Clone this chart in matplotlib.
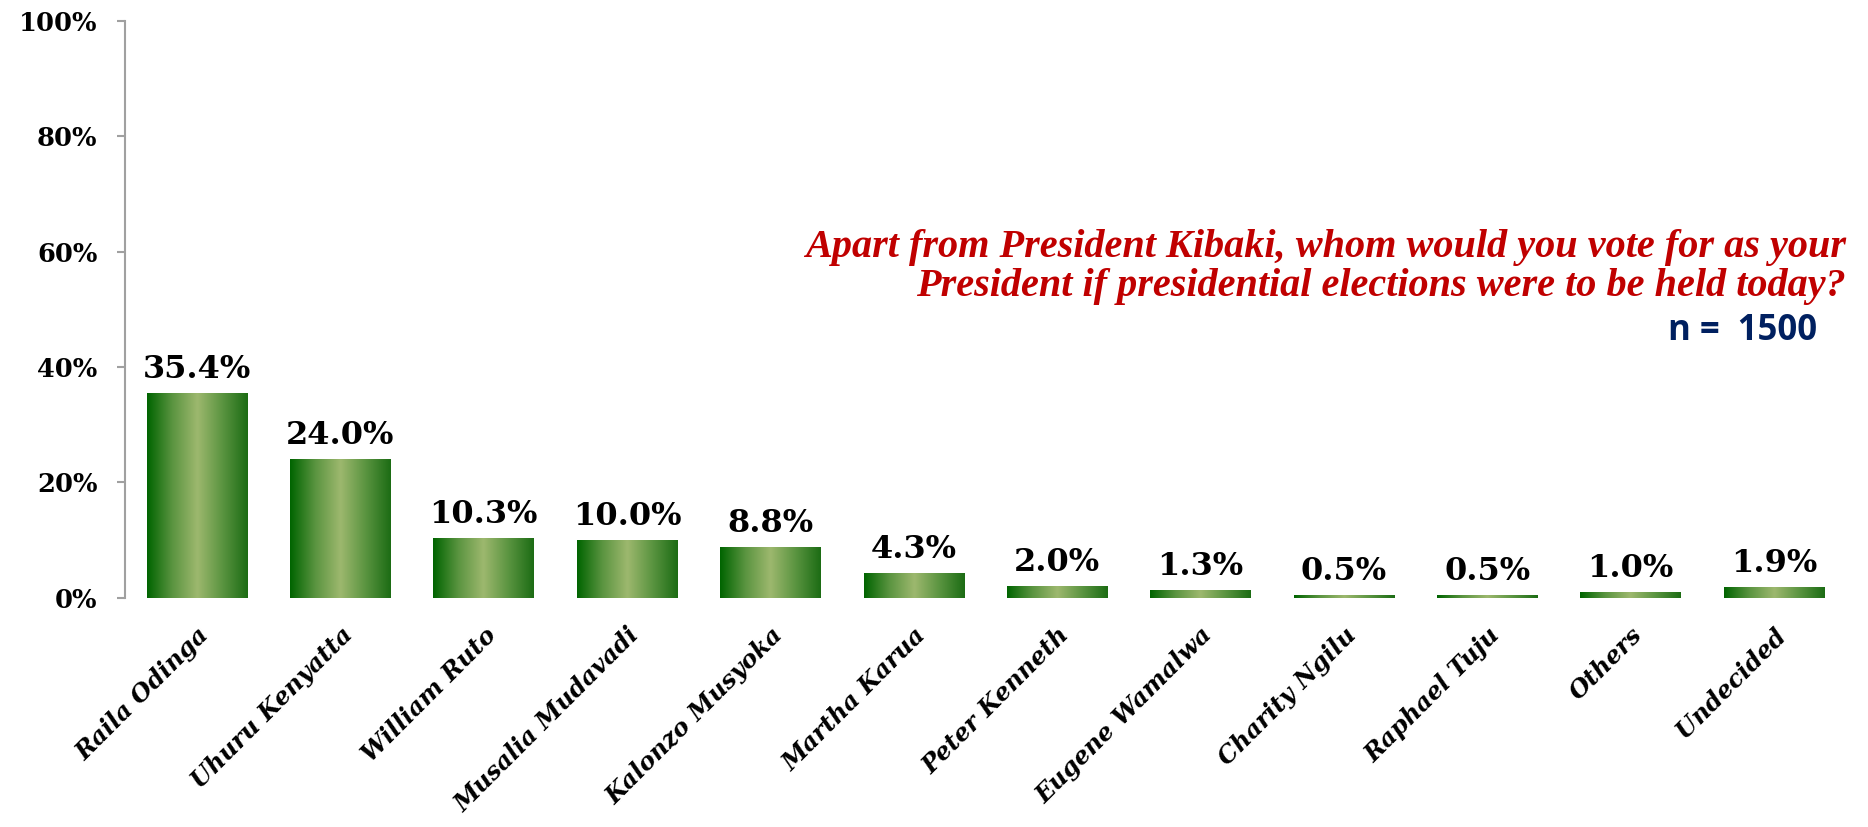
import numpy as np
import matplotlib.pyplot as plt
from matplotlib.colors import LinearSegmentedColormap

# data
candidates = ['Raila Odinga', 'Uhuru Kenyatta', 'William Ruto', 'Musalia Mudavadi',
              'Kalonzo Musyoka', 'Martha Karua', 'Peter Kenneth', 'Eugene Wamalwa',
              'Charity Ngilu', 'Raphael Tuju', 'Others', 'Undecided']
shares = [35.4, 24.0, 10.3, 10.0, 8.8, 4.3, 2.0, 1.3, 0.5, 0.5, 1.0, 1.9]
yticks = [0, 20, 40, 60, 80, 100]

question = 'Apart from President Kibaki, whom would you vote for as your\nPresident if presidential elections were to be held today?'
sample = 'n =  1500'

fig = plt.figure(figsize=(18.68, 8.27), dpi=100)
ax = fig.add_axes([0.067, 0.277, 0.921, 0.698])

x = np.arange(len(candidates))
bars = ax.bar(x, shares, width=0.70, color='none', edgecolor='none')

# horizontal green gradient inside each bar
cmap = LinearSegmentedColormap.from_list(
    'bar', ['#006400', '#5a9440', '#9db86e', '#5a9440', '#1c6c14'])
grad = np.linspace(0, 1, 256).reshape(1, -1)
for b in bars:
    x0, w, h = b.get_x(), b.get_width(), b.get_height()
    ax.imshow(grad, cmap=cmap, aspect='auto', extent=(x0, x0 + w, 0, h),
              interpolation='bicubic', zorder=2)

for xi, v in zip(x, shares):
    ax.text(xi, v + 1.4, f'{v:.1f}%', ha='center', va='bottom',
            fontsize=23, fontweight='bold', family='DejaVu Serif')

ax.set_xlim(-0.5, len(candidates) - 0.5)
ax.set_ylim(0, 100)
ax.set_yticks(yticks)
ax.set_yticklabels([f'{t}%' for t in yticks], fontsize=18.5, fontweight='bold',
                   family='DejaVu Serif')
ax.set_xticks(x)
ax.set_xticklabels(candidates, rotation=45, ha='right', rotation_mode='anchor',
                   fontsize=17.5, fontweight='bold', fontstyle='italic',
                   family='DejaVu Serif')
ax.tick_params(axis='x', length=0, pad=18)
ax.tick_params(axis='y', length=6, width=1.5, color='#a0a0a0', pad=14)

for s in ['top', 'right', 'bottom']:
    ax.spines[s].set_visible(False)
ax.spines['left'].set_color('#a0a0a0')
ax.spines['left'].set_linewidth(1.5)

fig.text(0.988, 0.677, question, ha='right', va='center', color='#c00000',
         fontsize=29, fontstyle='italic', fontweight='bold',
         family='Liberation Serif', linespacing=1.05)
fig.text(0.973, 0.60, sample, ha='right', va='center', color='#002060',
         fontsize=25, fontweight='bold', family='Open Sans')

plt.savefig('out.png', dpi=100)
